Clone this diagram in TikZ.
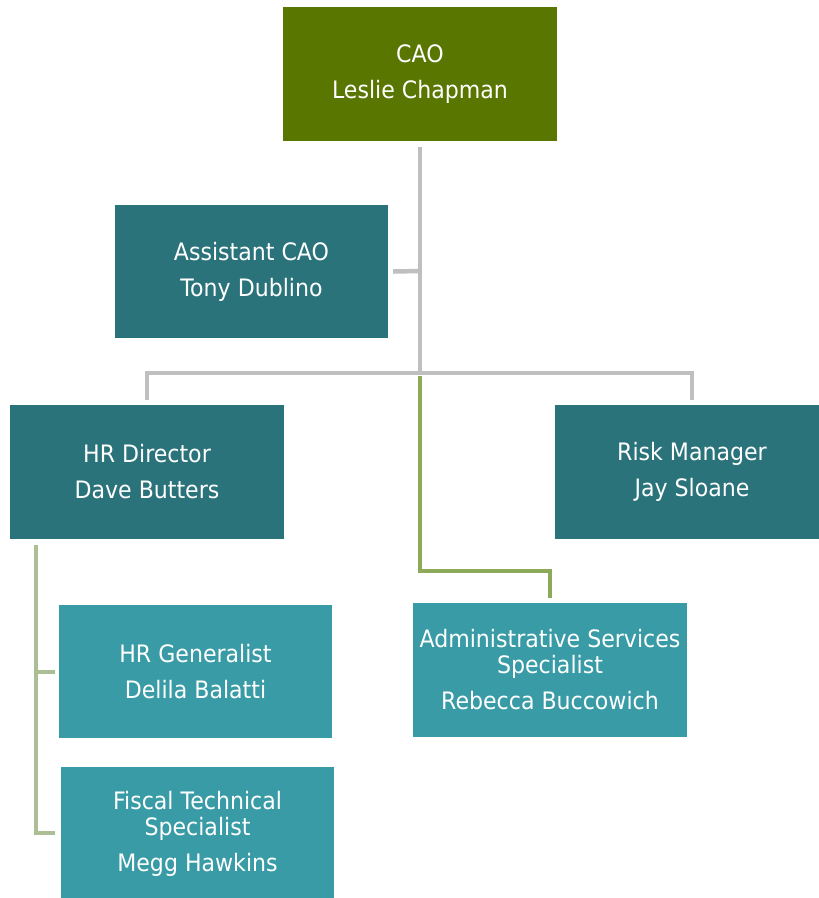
\documentclass[tikz,border=0pt]{standalone}
\usepackage{fontspec}
\setmainfont{DejaVu Sans}[FakeStretch=0.92]
\definecolor{olive}{RGB}{88,118,0}
\definecolor{darkteal}{RGB}{42,115,122}
\definecolor{liteteal}{RGB}{56,155,166}
\definecolor{conngray}{RGB}{191,191,191}
\definecolor{conngreen}{RGB}{140,170,90}
\definecolor{connsage}{RGB}{172,190,148}
\tikzset{
  orgbox/.style={rectangle, draw=none, text=white, align=center,
    minimum width=274pt, minimum height=134pt, inner sep=0pt,
    font=\fontsize{24}{26}\selectfont},
  topbox/.style={orgbox, fill=olive},
  midbox/.style={orgbox, fill=darkteal},
  lowbox/.style={orgbox, fill=liteteal},
  grayline/.style={draw=conngray, line width=4.5pt},
  greenline/.style={draw=conngreen, line width=4pt},
  sageline/.style={draw=connsage, line width=4pt},
}
\begin{document}
\begin{tikzpicture}[x=1pt,y=-1pt]
\useasboundingbox (0,0) rectangle (819,898);
\node[topbox] (cao) at (420,74) {CAO\\[10pt]Leslie Chapman};
\node[midbox, minimum width=273pt, minimum height=133pt] (asst) at (251.5,271.5) {Assistant CAO\\[10pt]Tony Dublino};
\node[midbox] (hrd) at (147,472) {HR Director\\[10pt]Dave Butters};
\node[midbox] (risk) at (692,472) {Risk Manager\\[10pt]Jay Sloane};
\node[lowbox] (adm) at (550,670) {Administrative Services\\Specialist\\[10pt]Rebecca Buccowich};
\node[lowbox, minimum width=273pt, minimum height=133pt] (hrg) at (195.5,671.5) {HR Generalist\\[10pt]Delila Balatti};
\node[lowbox, minimum width=273pt] (fis) at (197.5,834) {Fiscal Technical\\Specialist\\[10pt]Megg Hawkins};
\coordinate (junc) at (420,373);
\coordinate (asj) at (420,271);
\coordinate (hrtop) at (36,545);
% gray connectors
\draw[grayline] ([yshift=-6pt]cao.south) -- (junc);
\draw[grayline] ([xshift=5pt]asst.east) -- (asj);
\draw[grayline] ([yshift=5pt]hrd.north) |- (junc) -| ([yshift=5pt]risk.north);
% green connector to admin
\draw[greenline] ([yshift=-3pt]junc) -- (420,571) -| ([yshift=5pt]adm.north);
% sage connectors under HR Director
\draw[sageline] (hrtop) |- ([xshift=-6pt]fis.west |- 0,833);
\draw[sageline] (hrtop |- hrg.west) -- ([xshift=-4pt]hrg.west);
\end{tikzpicture}
\end{document}
